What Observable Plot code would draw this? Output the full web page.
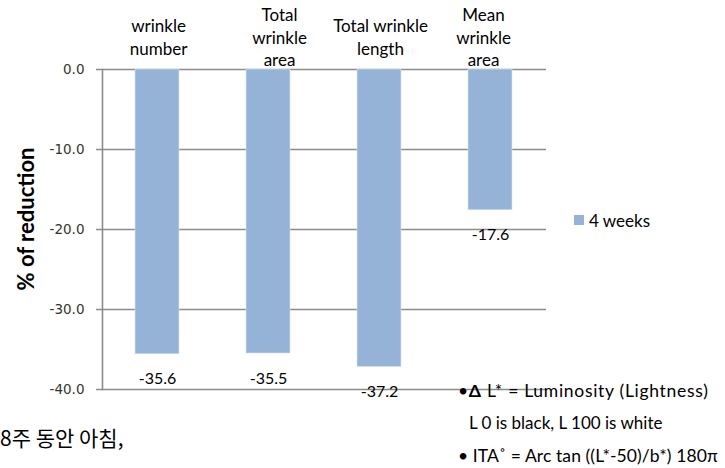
<!DOCTYPE html>
<html>
<head>
<meta charset="utf-8">
<script src="https://cdn.jsdelivr.net/npm/d3@7"></script>
<script src="https://cdn.jsdelivr.net/npm/@observablehq/plot@0.6"></script>
<style>
  html, body { margin: 0; padding: 0; background: #fff; }
  #wrap { position: relative; width: 725px; height: 468px; overflow: hidden; font-family: Lato, "Open Sans", sans-serif; }
  .abs { position: absolute; white-space: nowrap; line-height: 1; }
</style>
</head>
<body>
<div id="wrap"></div>
<script>
const categories = ["wrinkle number", "Total wrinkle area", "Total wrinkle length", "Mean wrinkle area"];
const categoryLabels = ["wrinkle\nnumber", "Total\nwrinkle\narea", "Total wrinkle\nlength", "Mean\nwrinkle\narea"];
const values4w = [-35.6, -35.5, -37.2, -17.6];
const yTicks = [0, -10, -20, -30, -40];
const seriesName = "4 weeks";
const yTitle = "% of reduction";
const notes = ["L* = Luminosity (Lightness)", "L 0 is black, L 100 is white", "ITA˚ = Arc tan ((L*-50)/b*) 180π"];
const koreanText = "8주 동안 아침,";

const data = categories.map((c, i) => ({cat: c, label: categoryLabels[i], value: values4w[i]}));

const barColor = "#95b3d7";
const gridColor = "#8c8c8c";
// small horizontal nudges of the header labels (layout only)
const headerNudge = [1, 11, 1, -7];

const chart = Plot.plot({
  width: 725,
  height: 468,
  marginLeft: 102,
  marginRight: 179,
  marginTop: 69,
  marginBottom: 79,
  style: {fontFamily: "Lato, 'Open Sans', sans-serif", background: "transparent", overflow: "visible"},
  x: {type: "band", domain: categories, paddingInner: 0.6, paddingOuter: 0.3, axis: null},
  y: {domain: [-40, 0], ticks: yTicks, tickFormat: d => d.toFixed(1), label: null},
  marks: [
    Plot.ruleY(yTicks, {stroke: gridColor, strokeWidth: 1.6, insetLeft: -6}),
    Plot.axisY({ticks: yTicks, tickFormat: d => d.toFixed(1), tickSize: 0, tickPadding: 18, fontSize: 13.5, fontFamily: "'DejaVu Sans', sans-serif", color: "#333", label: null}),
    Plot.barY(data, {x: "cat", y: "value", fill: barColor, stroke: "#dce6f2", strokeWidth: 0.6}),
    Plot.frame({anchor: "left", stroke: gridColor, strokeWidth: 1.6}),
    ...data.map((d, i) => Plot.text([d], {x: "cat", y: 0, text: "label", dx: headerNudge[i], dy: -33, lineAnchor: "middle", lineHeight: 1.32, fontSize: 17, fill: "#000"})),
    Plot.text(data, {x: "cat", y: "value", text: d => d.value.toFixed(1), dy: 25, fontSize: 16, fill: "#000"})
  ]
});

const wrap = document.getElementById("wrap");
wrap.appendChild(chart);

function addDiv(html, left, top, style) {
  const d = document.createElement("div");
  d.className = "abs";
  d.innerHTML = html;
  d.style.left = left + "px";
  d.style.top = top + "px";
  Object.assign(d.style, style || {});
  wrap.appendChild(d);
  return d;
}

// y-axis title
addDiv(yTitle, 26, 219, {fontSize: "22px", fontWeight: "bold", color: "#000", transform: "translate(-50%, -50%) rotate(-90deg)"});

// legend
addDiv("", 574, 215, {width: "10px", height: "10px", background: barColor});
addDiv(seriesName, 589, 212, {fontSize: "17px", color: "#000"});

// notes
addDiv("•<b>Δ</b> " + notes[0], 458, 382, {fontSize: "17.5px", color: "#000", letterSpacing: "0.7px"});
addDiv(notes[1], 469, 414, {fontSize: "17px", color: "#000"});
addDiv("• " + notes[2], 458, 447, {fontSize: "17.5px", color: "#000", letterSpacing: "0.1px"});

// korean text
addDiv(koreanText, 0, 427, {fontSize: "21px", fontFamily: "'Noto Sans CJK KR', sans-serif", color: "#000"});
</script>
</body>
</html>
